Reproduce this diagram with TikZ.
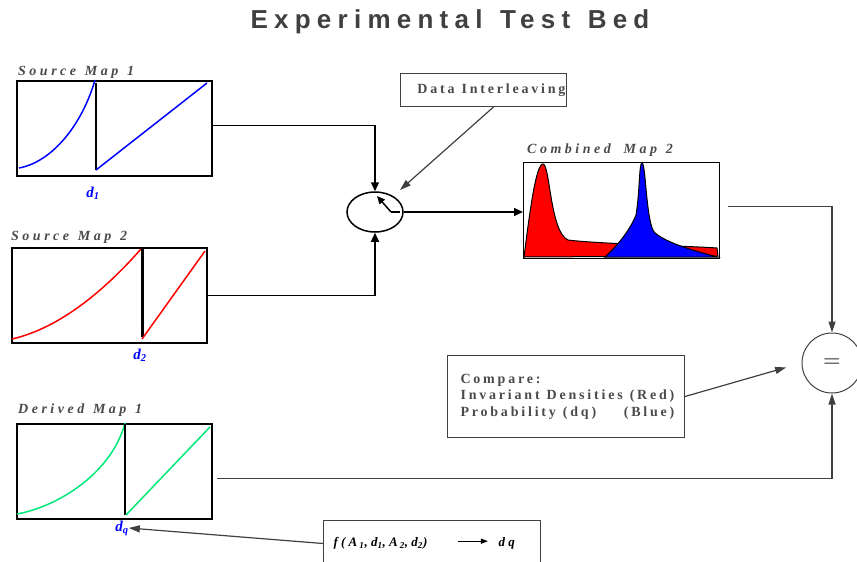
\documentclass[tikz,border=0pt]{standalone}
\usepackage{fontspec}
\usepackage{tikz}
\usetikzlibrary{arrows.meta,positioning,shapes.geometric}
\setmainfont{Liberation Serif}
\newfontfamily\titlefont[LetterSpace=24,WordSpace=1.3]{Liberation Sans}
\newfontfamily\mapfont[LetterSpace=25,WordSpace=1.25]{Liberation Serif}
\newfontfamily\boxfont[LetterSpace=20]{Liberation Serif}
\newcommand{\wsp}{\hspace{7pt}}
\definecolor{inkgray}{HTML}{404040}
\definecolor{labelgray}{HTML}{4A4A4A}
\definecolor{mapblue}{HTML}{0000FF}
\definecolor{mapred}{HTML}{FF0000}
\definecolor{mapgreen}{HTML}{00E878}

\tikzset{
  mapbox/.style={draw, line width=1.8pt, anchor=north west, inner sep=0pt},
  maplabel/.style={anchor=base west, inner sep=0pt, text=labelgray, font=\mapfont\bfseries\itshape\fontsize{14}{16}\selectfont},
  dlabel/.style={inner sep=0pt, text=mapblue, font=\bfseries\itshape\fontsize{15}{16}\selectfont},
  textbox/.style={draw=inkgray, line width=1pt, anchor=north west, inner ysep=0pt, text=labelgray, align=left},
  mainline/.style={line width=1.5pt, -{Triangle[length=9pt,width=8pt]}},
  greyline/.style={line width=1.2pt, draw=inkgray, -{Triangle[length=11pt,width=7pt]}},
}

\begin{document}
\begin{tikzpicture}[x=1pt, y=-1pt]
  \useasboundingbox (0,0) rectangle (857,562);

  % title
  \node[text=inkgray, font=\titlefont\bfseries\fontsize{26}{28}\selectfont] (title) at (450,22) {Experimental Test Bed};

  % source map 1
  \node[mapbox, minimum width=195pt, minimum height=95pt] (src1) at (16,80) {};
  \node[maplabel] (src1lbl) at (18,75) {Source Map 1};
  \draw[mapblue, line width=1.5pt] (19,168) .. controls (52,162) and (82,125) .. (95,80);
  \draw[line width=1.5pt] (96,83) -- (96,170);
  \draw[mapblue, line width=1.5pt] (96,170) -- (207,83);
  \node[dlabel] (d1) at (93,193) {d\textsubscript{\itshape 1}};

  % source map 2
  \node[mapbox, minimum width=195pt, minimum height=95pt] (src2) at (11,247) {};
  \node[maplabel] (src2lbl) at (11,240) {Source Map 2};
  \draw[mapred, line width=1.5pt] (12,339) .. controls (60,328) and (105,290) .. (141,249);
  \draw[line width=3pt] (142,249) -- (142,337);
  \draw[mapred, line width=1.5pt] (142,339) -- (205,251);
  \node[dlabel] (d2) at (140,355) {d\textsubscript{\itshape 2}};

  % derived map 1
  \node[mapbox, minimum width=195pt, minimum height=95pt] (der) at (16,423) {};
  \node[maplabel] (derlbl) at (18,413) {Derived Map 1};
  \draw[mapgreen, line width=1.5pt] (17,514) .. controls (60,506) and (112,472) .. (125,423);
  \draw[line width=1.5pt] (125,424) -- (125,515);
  \draw[mapgreen, line width=1.5pt] (126,515) -- (210,427);
  \node[dlabel] (dq) at (122,528) {d\textsubscript{\itshape q}};

  % interleaving switch
  \node[draw, ellipse, line width=1.5pt, minimum width=56pt, minimum height=40pt] (mux) at (375,212) {};
  \draw[line width=1.5pt] (400,212) -- (391,212);
  \draw[line width=1.5pt, -{Triangle[length=8pt,width=7pt]}] (391,212) -- (377,196);
  \coordinate (muxtip) at (400,190);

  \node[textbox, inner xsep=1pt, text width=164pt, align=right, minimum height=33pt, font=\boxfont\bfseries\fontsize{14}{16}\selectfont] (inter) at (400,73) {Data\wsp Interleaving};

  % combined map 2
  \node[mapbox, line width=1.2pt, minimum width=196pt, minimum height=96pt] (comb) at (523,162) {};
  \node[maplabel] (comblbl) at (527,153) {Combined\hspace{4pt} Map 2};
  \draw[line width=1pt, fill=mapred] (524,257) .. controls (530,210) and (536,164) .. (543,164)
    .. controls (550,164) and (550,232) .. (568,240)
    .. controls (600,244) and (690,246) .. (717,248) -- (718,256) -- cycle;
  \draw[line width=1pt, fill=mapblue] (605,257) .. controls (618,245) and (630,230) .. (636,215)
    .. controls (640,190) and (639,163) .. (642,163)
    .. controls (646,163) and (646,225) .. (655,233)
    .. controls (670,245) and (700,252) .. (717,257) -- cycle;

  % equality test
  \node[draw=inkgray, circle, line width=1pt, minimum size=60pt, font=\sffamily\fontsize{24}{24}\selectfont] (eq) at (832,363) {=};

  % compare box
  \node[textbox, inner xsep=13pt, text width=211pt, minimum height=82pt, font=\boxfont\bfseries\fontsize{14}{16.5}\selectfont] (cmp) at (447,355)
    {\begin{tabular}{@{}l@{}}Compare:\\Invariant\wsp Densities\wsp(Red)\\Probability\wsp(dq)\hfill(Blue)\end{tabular}};

  % derivation function
  \node[textbox, inner xsep=10pt, text width=197pt, minimum height=46pt, text=black, font=\mapfont\bfseries\itshape\fontsize{13}{15}\selectfont] (fbox) at (323,520)
    {f(A\,\textsubscript{\itshape 1},d\textsubscript{\itshape 1},A\,\textsubscript{\itshape 2},d\textsubscript{\itshape 2})\hspace{30pt}\raisebox{3pt}{\tikz\draw[line width=1.2pt,-{Triangle[length=7pt,width=5pt]}] (0,0) -- (30pt,0);}\hspace{10pt}dq};

  % connectors
  \draw[mainline] ([yshift=3pt]src1.east) -| (mux.north);
  \draw[mainline] (src2.east) -| (mux.south);
  \draw[mainline] (mux.east) -- (mux.east -| comb.west);
  \draw[greyline] ([xshift=10pt]inter.south) -- (muxtip);
  \draw[greyline, shorten <=8pt] ([yshift=4pt]comb.east) -| (eq.north);
  \draw[greyline, shorten >=16pt] (cmp.east) -- (eq.west);
  \draw[greyline, shorten <=4pt] ([yshift=-7pt]der.east) -| (eq.south);
  \draw[greyline] (fbox.west) -- (dq.east);
\end{tikzpicture}
\end{document}
